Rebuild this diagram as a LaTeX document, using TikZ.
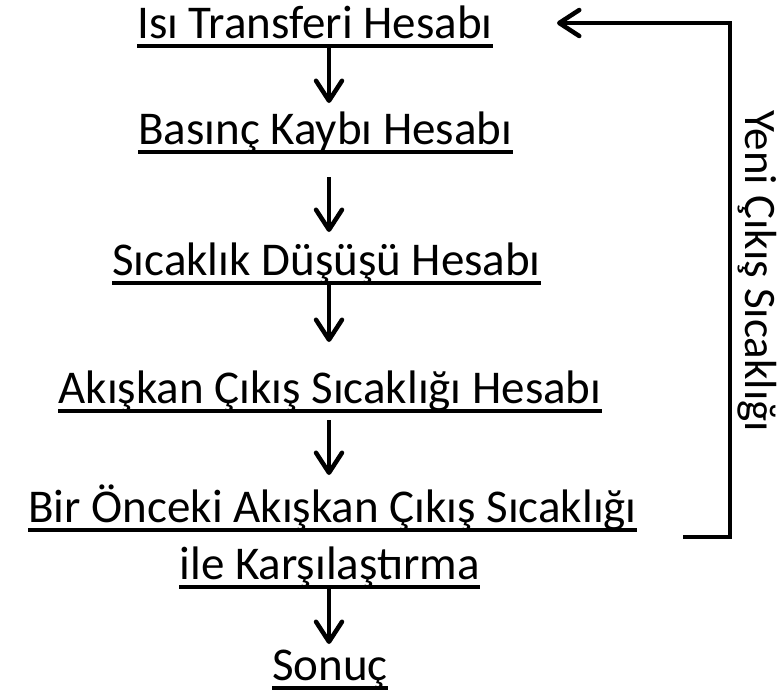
\documentclass[tikz,border=0pt]{standalone}
\usepackage{fontspec}
\setmainfont{Carlito}
\usetikzlibrary{arrows.meta,calc}
\begin{document}
\begin{tikzpicture}[x=1pt,y=-1pt,
  lbl/.style={inner sep=0pt, anchor=base, font=\fontsize{47pt}{56pt}\selectfont},
  side/.style={inner sep=0pt, anchor=base west, rotate=-90, font=\fontsize{45pt}{54pt}\selectfont},
  arr/.style={line width=4.5pt, -{Straight Barb[length=20pt,width=26pt,round]}},
  uline/.style={line width=3.5pt}]
\useasboundingbox (0,0) rectangle (778,691);
\node[lbl, anchor=base west] (t1) at (137,38) {Isı Transferi Hesabı};
\node[lbl, anchor=base west] (t2) at (138,144) {Basınç Kaybı Hesabı};
\node[lbl, anchor=base west] (t3) at (112,275) {Sıcaklık Düşüşü Hesabı};
\node[lbl] (t4) at (330,403) {Akışkan Çıkış Sıcaklığı Hesabı};
\node[lbl, anchor=base east] (t5) at (637,522) {Bir Önceki Akışkan Çıkış Sıcaklığı};
\node[lbl, anchor=base east] (t6) at (480,579) {ile Karşılaştırma};
\node[lbl, anchor=base west] (t7) at (272,680) {Sonuç};
\foreach \n in {t1,t2,t3,t4,t5,t6,t7}
  \draw[uline] ($(\n.base west)+(0,8)$) -- ($(\n.base east)+(0,8)$);
\coordinate (ax) at (329,0);
\draw[arr] ($(ax|-t1.base)+(0,8)$) -- ($(ax|-t2.base)+(0,-41)$);
\draw[arr] ($(ax|-t2.base)+(0,33)$) -- ($(ax|-t3.base)+(0,-43)$);
\draw[arr] ($(ax|-t3.base)+(0,9)$) -- ($(ax|-t4.base)+(0,-61)$);
\draw[arr] ($(ax|-t4.base)+(0,17)$) -- ($(ax|-t5.base)+(0,-47)$);
\draw[arr] ($(ax|-t6.base)+(0,9)$) -- ($(ax|-t7.base)+(0,-36)$);
\coordinate (b1) at (683,537);
\coordinate (b2) at (730,537);
\coordinate (b3) at (730,23);
\coordinate (b4) at (557,23);
\draw[arr] (b1) -- (b2) -- (b3) -- (b4);
\node[side] (yk) at (745,110) {Yeni Çıkış Sıcaklığı};
\end{tikzpicture}
\end{document}
